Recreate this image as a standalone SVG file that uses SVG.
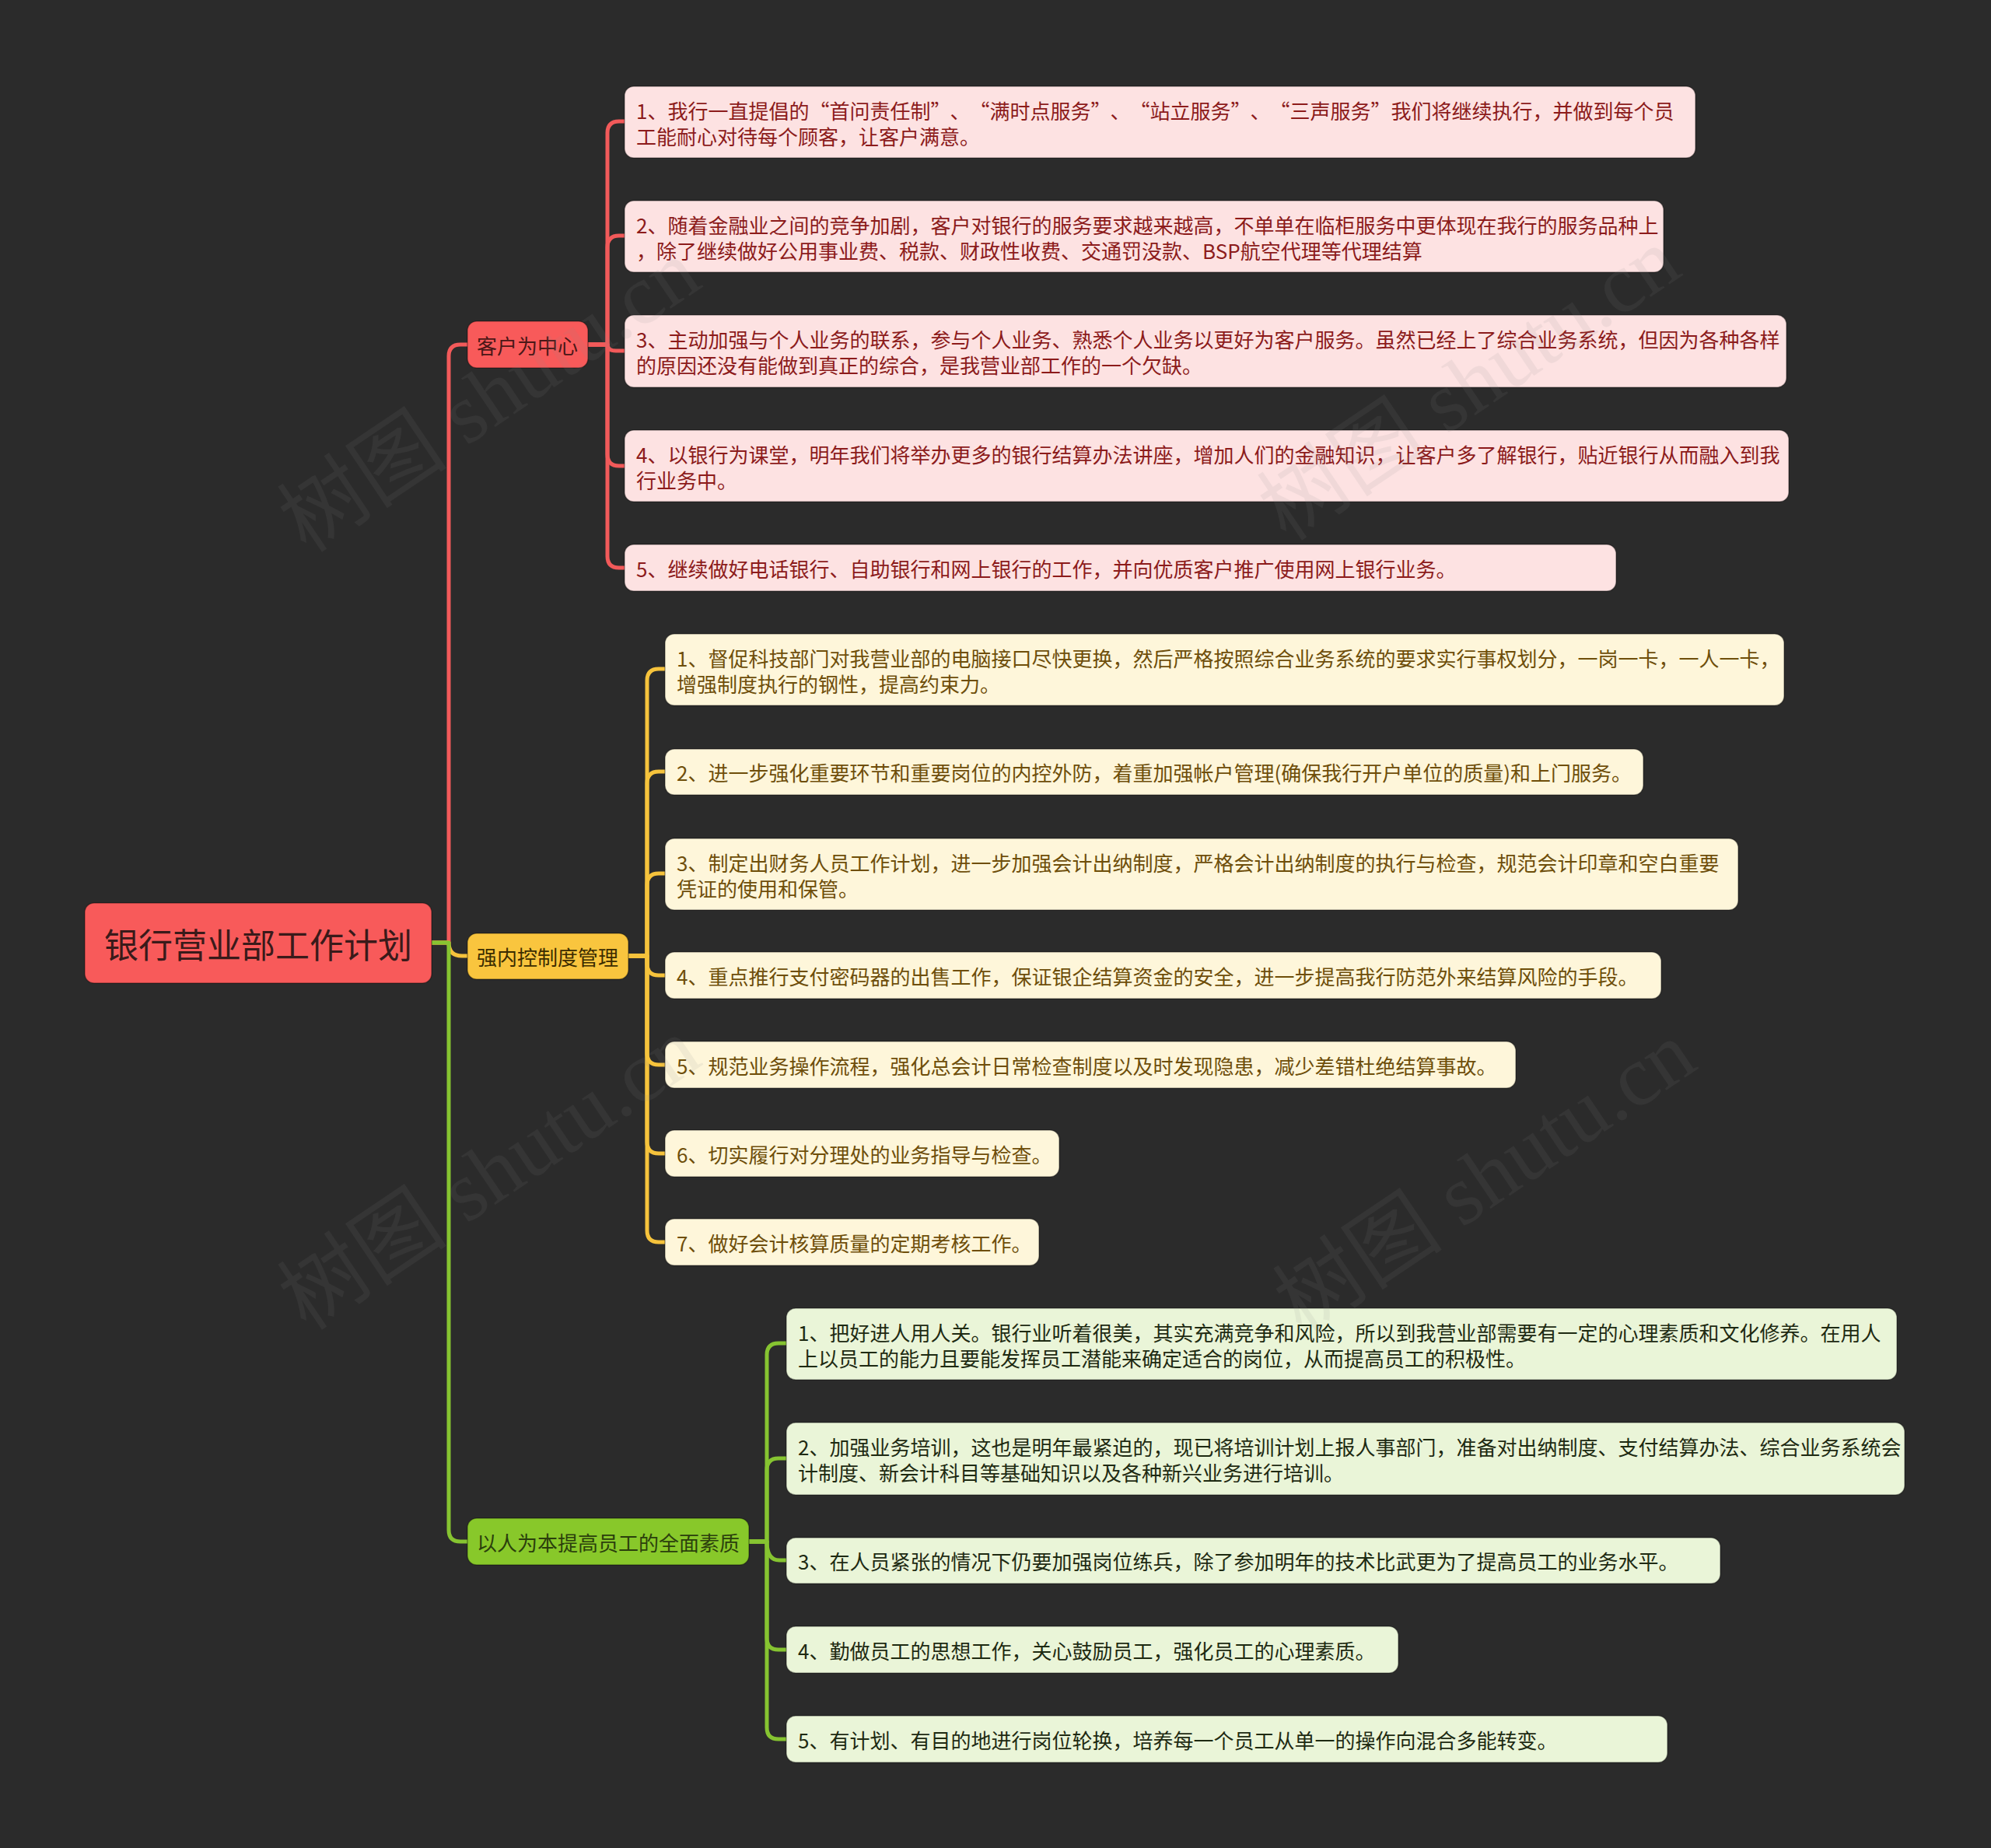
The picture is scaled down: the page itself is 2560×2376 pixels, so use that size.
<svg xmlns="http://www.w3.org/2000/svg" width="2560" height="2376" viewBox="0 0 2560 2376">
<style>
text{font-family:"Noto Sans CJK SC","Noto Sans",sans-serif;dominant-baseline:central}
.lf{font-size:26px}
.br{font-size:26px;text-anchor:middle}
.rt{font-size:44px;text-anchor:middle;fill:#3a1a1a}
.c{fill:none;stroke-width:5;stroke-linecap:round;stroke-linejoin:round}
.cr{stroke:#f25a5a}.cy{stroke:#f6c33c}.cg{stroke:#86c431}
.bx{stroke:rgba(0,0,0,0.35);stroke-width:1.5}
.rl{fill:#fde2e2}.rlt{fill:#8c1b1b}
.yl{fill:#fef6da}.ylt{fill:#6e4e0a}
.gl{fill:#eaf5d8}.glt{fill:#1e2a12}
.wm{font-family:"Liberation Serif","Noto Sans CJK SC",serif;font-size:110px;fill:#8a8a8a;opacity:0.1;text-anchor:middle;dominant-baseline:auto}
</style>
<rect width="2560" height="2376" fill="#2b2b2b"/>
<g id="connectors">
<path class="c cr" d="M555 1212 H577 V458 Q577 443 592 443 H601"/>
<path class="c cy" d="M555 1212 H577 Q577 1229 594 1229 H601"/>
<path class="c cg" d="M555 1212 H577 V1967 Q577 1982 592 1982 H601"/>
<path class="c cr" d="M756 443 H781 V171 Q781 156 796 156 H803"/>
<path class="c cr" d="M756 443 H781 V318 Q781 303 796 303 H803"/>
<path class="c cr" d="M756 443 H781 Q781 451 792 451 H803"/>
<path class="c cr" d="M756 443 H781 V584 Q781 599 796 599 H803"/>
<path class="c cr" d="M756 443 H781 V715 Q781 730 796 730 H803"/>
<path class="c cy" d="M808 1229 H832 V875 Q832 860 847 860 H855"/>
<path class="c cy" d="M808 1229 H832 V1007 Q832 992 847 992 H855"/>
<path class="c cy" d="M808 1229 H832 V1138 Q832 1123 847 1123 H855"/>
<path class="c cy" d="M808 1229 H832 V1239 Q832 1254 847 1254 H855"/>
<path class="c cy" d="M808 1229 H832 V1354 Q832 1369 847 1369 H855"/>
<path class="c cy" d="M808 1229 H832 V1468 Q832 1483 847 1483 H855"/>
<path class="c cy" d="M808 1229 H832 V1582 Q832 1597 847 1597 H855"/>
<path class="c cg" d="M963 1982 H986 V1742 Q986 1727 1001 1727 H1011"/>
<path class="c cg" d="M963 1982 H986 V1890 Q986 1875 1001 1875 H1011"/>
<path class="c cg" d="M963 1982 H986 Q986 2006 1002 2006 H1011"/>
<path class="c cg" d="M963 1982 H986 V2106 Q986 2121 1001 2121 H1011"/>
<path class="c cg" d="M963 1982 H986 V2221 Q986 2236 1001 2236 H1011"/>
</g>
<g id="root">
<rect class="bx" x="109" y="1161" width="446" height="103" rx="12" fill="#f85a5a"/>
<text class="rt" x="332" y="1213">银行营业部工作计划</text>
</g>
<g id="b1">
<rect class="bx" x="601" y="413" width="155" height="60" rx="12" fill="#f85a5a"/>
<text class="br" x="678" y="443" fill="#4a1717">客户为中心</text>
</g>
<g id="b2">
<rect class="bx" x="601" y="1200" width="207" height="59" rx="12" fill="#f9c53e"/>
<text class="br" x="704" y="1229" fill="#3b2c00">强内控制度管理</text>
</g>
<g id="b3">
<rect class="bx" x="601" y="1952" width="362" height="60" rx="12" fill="#88c82a"/>
<text class="br" x="782" y="1982" fill="#2b3f0c">以人为本提高员工的全面素质</text>
</g>
<g id="r1">
<rect class="bx rl" x="803" y="111" width="1377" height="92" rx="12"/>
<text class="lf rlt" x="818" y="141">1、我行一直提倡的“首问责任制”<tspan dx="12">、</tspan><tspan dx="12">“满时点服务”</tspan><tspan dx="12">、</tspan><tspan dx="12">“站立服务”</tspan><tspan dx="12">、</tspan><tspan dx="12">“三声服务”我们将继续执行，并做到每个员</tspan></text>
<text class="lf rlt" x="818" y="174">工能耐心对待每个顾客，让客户满意。</text>
</g>
<g id="r2">
<rect class="bx rl" x="803" y="258" width="1336" height="92" rx="12"/>
<text class="lf rlt" x="818" y="288">2、随着金融业之间的竞争加剧，客户对银行的服务要求越来越高，不单单在临柜服务中更体现在我行的服务品种上</text>
<text class="lf rlt" x="818" y="321">，除了继续做好公用事业费、税款、财政性收费、交通罚没款、BSP航空代理等代理结算</text>
</g>
<g id="r3">
<rect class="bx rl" x="803" y="405" width="1494" height="93" rx="12"/>
<text class="lf rlt" x="818" y="435">3、主动加强与个人业务的联系，参与个人业务、熟悉个人业务以更好为客户服务。虽然已经上了综合业务系统，但因为各种各样</text>
<text class="lf rlt" x="818" y="468">的原因还没有能做到真正的综合，是我营业部工作的一个欠缺。</text>
</g>
<g id="r4">
<rect class="bx rl" x="803" y="553" width="1497" height="92" rx="12"/>
<text class="lf rlt" x="818" y="583">4、以银行为课堂，明年我们将举办更多的银行结算办法讲座，增加人们的金融知识，让客户多了解银行，贴近银行从而融入到我</text>
<text class="lf rlt" x="818" y="616">行业务中。</text>
</g>
<g id="r5">
<rect class="bx rl" x="803" y="700" width="1275" height="60" rx="12"/>
<text class="lf rlt" x="818" y="730">5、继续做好电话银行、自助银行和网上银行的工作，并向优质客户推广使用网上银行业务。</text>
</g>
<g id="y1">
<rect class="bx yl" x="855" y="815" width="1439" height="92" rx="12"/>
<text class="lf ylt" x="870" y="845">1、督促科技部门对我营业部的电脑接口尽快更换，然后严格按照综合业务系统的要求实行事权划分，一岗一卡，一人一卡，</text>
<text class="lf ylt" x="870" y="878">增强制度执行的钢性，提高约束力。</text>
</g>
<g id="y2">
<rect class="bx yl" x="855" y="963" width="1258" height="59" rx="12"/>
<text class="lf ylt" x="870" y="992">2、进一步强化重要环节和重要岗位的内控外防，着重加强帐户管理(确保我行开户单位的质量)和上门服务。</text>
</g>
<g id="y3">
<rect class="bx yl" x="855" y="1078" width="1380" height="92" rx="12"/>
<text class="lf ylt" x="870" y="1108">3、制定出财务人员工作计划，进一步加强会计出纳制度，严格会计出纳制度的执行与检查，规范会计印章和空白重要</text>
<text class="lf ylt" x="870" y="1141">凭证的使用和保管。</text>
</g>
<g id="y4">
<rect class="bx yl" x="855" y="1224" width="1281" height="60" rx="12"/>
<text class="lf ylt" x="870" y="1254">4、重点推行支付密码器的出售工作，保证银企结算资金的安全，进一步提高我行防范外来结算风险的手段。</text>
</g>
<g id="y5">
<rect class="bx yl" x="855" y="1339" width="1094" height="60" rx="12"/>
<text class="lf ylt" x="870" y="1369">5、规范业务操作流程，强化总会计日常检查制度以及时发现隐患，减少差错杜绝结算事故。</text>
</g>
<g id="y6">
<rect class="bx yl" x="855" y="1453" width="507" height="60" rx="12"/>
<text class="lf ylt" x="870" y="1483">6、切实履行对分理处的业务指导与检查。</text>
</g>
<g id="y7">
<rect class="bx yl" x="855" y="1567" width="481" height="60" rx="12"/>
<text class="lf ylt" x="870" y="1597">7、做好会计核算质量的定期考核工作。</text>
</g>
<g id="g1">
<rect class="bx gl" x="1011" y="1682" width="1428" height="92" rx="12"/>
<text class="lf glt" x="1026" y="1712">1、把好进人用人关。银行业听着很美，其实充满竞争和风险，所以到我营业部需要有一定的心理素质和文化修养。在用人</text>
<text class="lf glt" x="1026" y="1745">上以员工的能力且要能发挥员工潜能来确定适合的岗位，从而提高员工的积极性。</text>
</g>
<g id="g2">
<rect class="bx gl" x="1011" y="1829" width="1438" height="93" rx="12"/>
<text class="lf glt" x="1026" y="1859">2、加强业务培训，这也是明年最紧迫的，现已将培训计划上报人事部门，准备对出纳制度、支付结算办法、综合业务系统会</text>
<text class="lf glt" x="1026" y="1892">计制度、新会计科目等基础知识以及各种新兴业务进行培训。</text>
</g>
<g id="g3">
<rect class="bx gl" x="1011" y="1977" width="1201" height="59" rx="12"/>
<text class="lf glt" x="1026" y="2006">3、在人员紧张的情况下仍要加强岗位练兵，除了参加明年的技术比武更为了提高员工的业务水平。</text>
</g>
<g id="g4">
<rect class="bx gl" x="1011" y="2091" width="787" height="60" rx="12"/>
<text class="lf glt" x="1026" y="2121">4、勤做员工的思想工作，关心鼓励员工，强化员工的心理素质。</text>
</g>
<g id="g5">
<rect class="bx gl" x="1011" y="2206" width="1133" height="60" rx="12"/>
<text class="lf glt" x="1026" y="2236">5、有计划、有目的地进行岗位轮换，培养每一个员工从单一的操作向混合多能转变。</text>
</g>
<g id="watermark">
<text class="wm" transform="translate(650 540) rotate(-34)">树图 shutu.cn</text>
<text class="wm" transform="translate(1910 525) rotate(-34)">树图 shutu.cn</text>
<text class="wm" transform="translate(650 1540) rotate(-34)">树图 shutu.cn</text>
<text class="wm" transform="translate(1930 1545) rotate(-34)">树图 shutu.cn</text>
</g>
</svg>
